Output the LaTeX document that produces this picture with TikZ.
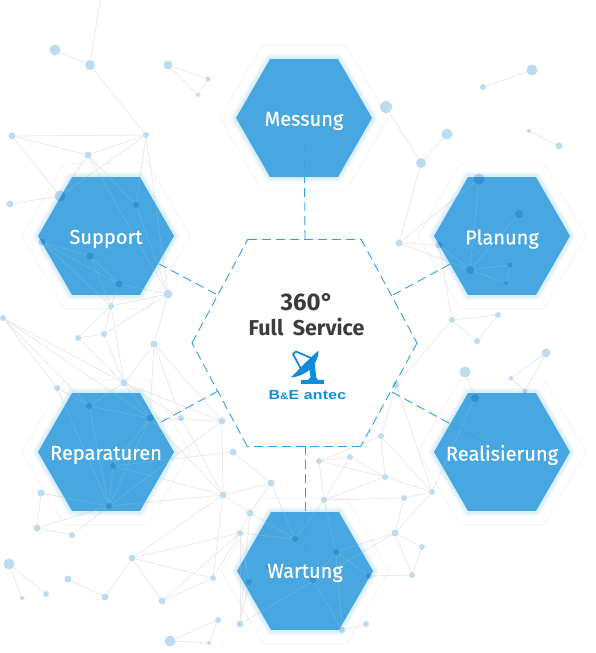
\documentclass[tikz,border=0pt]{standalone}
\usepackage{fontspec}
\usetikzlibrary{shapes.geometric}
\setmainfont{Fira Sans}
\newfontfamily\cellfont[FakeBold=0.5]{Fira Sans}
\newfontfamily\logofont[FakeStretch=1.22,LetterSpace=2]{Liberation Sans Bold}
\definecolor{hexblue}{HTML}{3DA2DF}
\definecolor{glowblue}{HTML}{6CBDF0}
\definecolor{dashblue}{HTML}{2F9FE6}
\definecolor{dotblue}{HTML}{BEDCF0}
\definecolor{edgegrey}{HTML}{EAEAEA}
\definecolor{logoblue}{HTML}{0F8CDC}
\definecolor{textgrey}{HTML}{3C3C3C}
\def\netdots{
    a1/55/50/11, a2/90/65/10, a3/168/65/9, a4/208/79/5, a5/198/95/4,
    b1/146/135/6, b2/12/136/7, b3/88/155/7, b4/60/196/11, b5/10/204/7,
    b6/136/205/6, b7/42/242/7, b8/90/256/7, b9/119/284/7, b10/168/294/9,
    b11/111/306/6, b12/3/318/6,
    c1/78/338/6, c2/104/334/6, c3/154/344/7, c4/124/383/7, c5/57/388/6,
    c6/89/406/6, c7/150/418/7, c8/181/418/6, c9/222/421/7, c10/233/452/7,
    c11/113/466/6, c12/223/495/7, c13/271/483/7, c14/41/493/7, c15/109/506/6,
    c16/250/513/7, c17/37/528/7, c18/72/535/6, c19/240/533/6, c20/132/558/7,
    c21/9/564/11, c22/68/579/7, c23/46/594/6, c24/22/598/4, c25/105/597/7,
    c26/162/601/7, c27/213/578/6, c28/249/582/6, c29/240/624/7, c30/170/641/11,
    c31/218/620/6, c32/209/643/4, c33/295/539/6, c34/268/567/5,
    d1/319/461/6, d2/350/457/6, d3/381/436/6, d4/385/477/6, d5/324/500/6,
    d6/404/498/6, d7/432/492/6, d8/395/533/7, d9/422/547/6, d10/412/575/6,
    d11/336/552/6, d12/369/576/6, d13/313/580/6, d14/342/630/6, d15/366/624/6,
    e1/396/385/7, e2/465/372/11, e3/546/353/9, e4/511/378/4, e5/525/391/5,
    e6/475/398/8, e7/452/320/6, e8/477/341/6,
    f1/386/107/12, f2/421/163/10, f3/447/134/11, f4/483/87/6, f5/532/70/11,
    f6/529/131/4, f7/559/146/7, f8/479/179/11, f9/519/214/8, f10/399/243/7,
    f11/439/245/7, f12/470/270/8, f13/510/265/5, f14/506/283/4, f16/498/315/6}
\def\netedges{
    a1/a2, a2/top, a2/b1, a3/a4, a3/a5, a4/a5,
    b2/b1, b2/b3, b3/b1, b2/b4, b4/b5, b3/b4, b1/b4, b3/b6, b1/b6, b6/b10,
    b1/b10, b3/b10, b7/b8, b7/b9, b7/b11, b8/b9, b8/b11, b9/b10, b9/b11,
    b10/b11, b10/c3, b11/c1, b11/c2, b11/c4, b10/c2,
    c1/c2, c1/c4, c2/c4, c3/c4, c3/c7, c3/c8, c3/c9, b12/c5, b12/c6, b12/c4, b12/c7,
    c4/c6, c4/c7, c4/c8, c4/c9, c5/c6, c5/c15, c6/c7, c6/c15, c7/c8, c7/c15,
    c7/c9, c7/c11, c11/c15, c11/c12, c15/c12, c15/c14, c15/c17, c15/c18,
    c14/c17, c17/c18, c9/c15, c9/c12, c10/c11, c10/c13, c8/c12, c7/c12,
    c12/c13, c12/c16, c12/c27, c12/c20, c20/c19, c20/c27, c20/c26, c20/c25,
    c25/c22, c19/c26, c27/c26, c19/c27, c16/c19, c21/c24, c21/c23,
    c29/c19, c29/c28, c28/c19, c29/c16, c30/c31, c30/c32, c31/c32,
    c13/c33, c19/c33, c16/c33, c13/c16, c29/d8,
    d1/d2, d1/d3, d1/d4, d2/d4, d1/d5, d2/d5, d3/d4, d3/d7, d3/e1,
    d4/d5, d4/d7, d5/d6, d6/d7, d6/d8, d7/d8, d8/d9, d8/d10, d9/d10,
    d8/d11, d11/d12, d12/d10, d11/d14, d11/d13, d13/d14, d5/d11, d5/c33, d14/d15,
    e1/d7, e1/e7, d7/e6, e6/e2, e3/e4, e3/e5, e4/e5, e7/e8, e8/f16,
    f1/f2, f2/f3, f2/f10, f4/f5, f6/f7, f10/f8, f10/f11, f10/f12, f8/f12,
    f9/f12, f12/f13, f12/f14, f13/f14, f11/f12, f11/e7, e7/f16}
\begin{document}
\begin{tikzpicture}[
    x=1pt, y=-1pt,
    halo/.style={regular polygon, regular polygon sides=6, minimum size=168pt, inner sep=0pt, draw=black!3, line width=1.5pt, fill=white},
    hexcell/.style={regular polygon, regular polygon sides=6, minimum size=136pt, inner sep=0pt, fill=hexblue, fill opacity=0.94},
    hexglow/.style={regular polygon, regular polygon sides=6, minimum size=136pt, inner sep=0pt, draw=glowblue, draw opacity=0.09},
    hextext/.style={text=white, font=\cellfont\fontsize{20}{20}\selectfont},
    dotspace/.style={circle, inner sep=0pt},
    dot/.style={circle, fill=dotblue, inner sep=0pt, blend mode=multiply},
    edge/.style={draw=edgegrey, line width=0.8pt},
    link/.style={draw=dashblue, line width=0.9pt, dash pattern=on 9pt off 5pt},
]
    \useasboundingbox (0,0) rectangle (596,653);

    % outer hexagons
    \foreach \n/\x/\y in {m/304/118, s/106/236, p/502/236, r/502/452, u/106/452, w/305/571}
        \node[halo] (halo\n) at (\x,\y) {};

    % network places and its lines under the cells
    \foreach \n/\x/\y/\d in \netdots
        \node[dotspace, minimum size=\d pt] (\n) at (\x,\y) {};
    \coordinate (top) at (100,0);
    \foreach \a/\b in \netedges
        \draw[edge] (\a) -- (\b);

    % centre hexagon and the links to the six cells
    \coordinate (k1) at (248,239);
    \coordinate (k2) at (361,239);
    \coordinate (k3) at (417,343);
    \coordinate (k4) at (361,446);
    \coordinate (k5) at (247,446);
    \coordinate (k6) at (192,343);
    \foreach \a/\b in {k1/k2, k2/k3, k3/k4, k4/k5, k5/k6, k6/k1}
        \draw[link] (\a) -- (\b);
    \coordinate (lm) at (305,239);
    \coordinate (ls) at (216,294);
    \coordinate (lp) at (393,295);
    \coordinate (lr) at (392,392);
    \coordinate (lu) at (218,391);
    \coordinate (lw) at (305,446);
    \foreach \a/\b in {lm/m, ls/s, lp/p, lr/r, lu/u, lw/w}
        \draw[link] (\a) -- (halo\b.center);

    % the six cells
    \foreach \n in {m,s,p,r,u,w} {
        \foreach \w in {10,7,4}
            \node[hexglow, line width=\w pt] (glow\n\w) at (halo\n) {};
        \node[hexcell] (cell\n) at (halo\n) {};
    }

    % lines again, faint over the cells, then the dots
    \foreach \a/\b in \netedges
        \draw[edge, opacity=0.16] (\a) -- (\b);
    \foreach \n/\x/\y/\d in \netdots
        \node[dot, minimum size=\d pt] (v\n) at (\n) {};

    % texts
    \node[hextext] (tm) at (304,121) {Messung};
    \node[hextext] (ts) at (106,239) {Support};
    \node[hextext] (tp) at (502,239) {Planung};
    \node[hextext] (tr) at (502,455) {Realisierung};
    \node[hextext] (tu) at (106,455) {Reparaturen};
    \node[hextext] (tw) at (305,573) {Wartung};
    \node[text=textgrey, font=\fontsize{24}{24}\selectfont\bfseries] (t360) at (307,302) {360°};
    \node[text=textgrey, font=\fontsize{21.5}{22}\selectfont\bfseries] (tfull) at (306.5,327) {Full\hspace{0.2em} Service};

    % logo
    \fill[logoblue] (301,380) rectangle (324,384.2);
    \fill[logoblue] (309,368) -- (315,364) -- (316,377) -- (318,380) -- (308,380) -- (310.5,377) -- cycle;
    \fill[logoblue] (318.5,350.5) .. controls (318,366) and (306,376) .. (291,377.5)
        .. controls (300,368) and (310,358) .. (318.5,350.5) -- cycle;
    \draw[logoblue, line width=1.8pt, line join=round] (311,358) -- (296,351.5) -- (293,354) -- (302,371);
    \node[text=logoblue, font=\logofont\fontsize{13}{13}\selectfont, inner sep=0pt] (tlogo) at (307.5,395) {B{\fontsize{9.5}{10}\selectfont\&}E antec};
\end{tikzpicture}
\end{document}
